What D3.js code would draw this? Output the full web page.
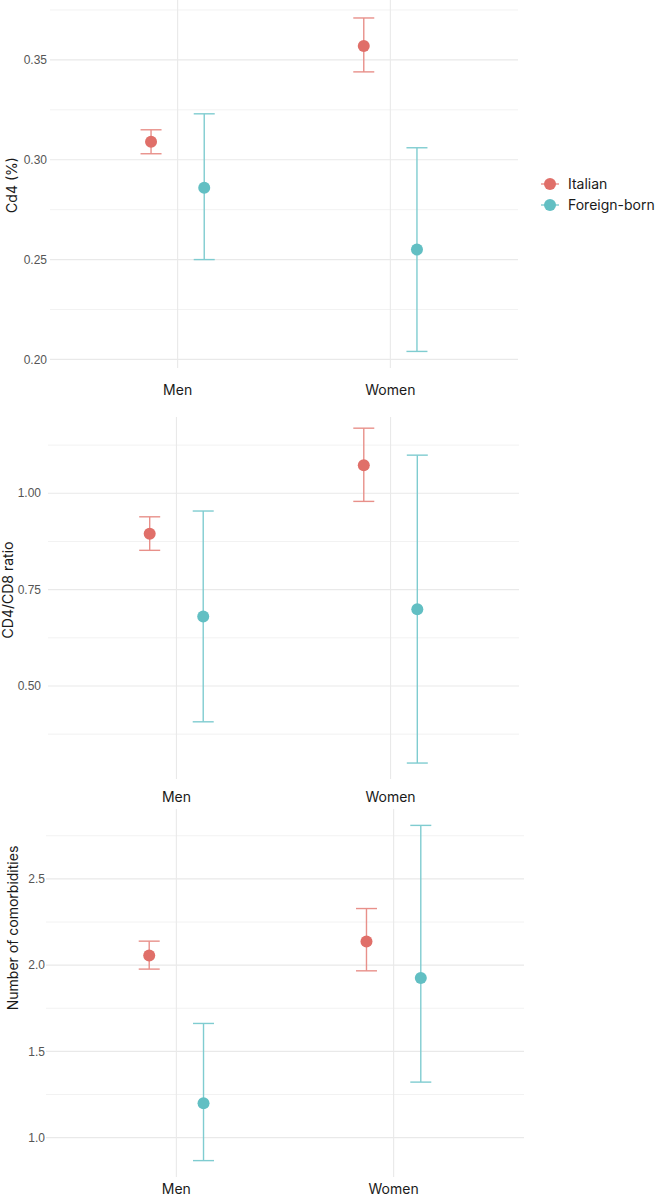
<!DOCTYPE html>
<html>
<head>
<meta charset="utf-8">
<script src="https://cdn.jsdelivr.net/npm/d3@7"></script>
<style>
  body { margin: 0; background: #fff; }
  svg { display: block; }
</style>
</head>
<body>
<svg id="chart" width="656" height="1196"></svg>
<script>
// categories and series
const groups = ["Men", "Women"];
const series = ["Italian", "Foreign-born"];
const colors = ["#e06f69", "#62bfc3"];
const barColors = ["#e8908a", "#7fccd0"];

// values per group: [mean, lower, upper]
const cd4Italian = [[0.309, 0.303, 0.315], [0.357, 0.344, 0.371]];
const cd4Foreign = [[0.286, 0.250, 0.323], [0.255, 0.204, 0.306]];
const ratioItalian = [[0.895, 0.852, 0.939], [1.073, 0.979, 1.169]];
const ratioForeign = [[0.680, 0.407, 0.954], [0.699, 0.300, 1.099]];
const comorbItalian = [[2.056, 1.977, 2.139], [2.137, 1.967, 2.328]];
const comorbForeign = [[1.199, 0.867, 1.662], [1.925, 1.322, 2.810]];

// tick labels
const cd4Ticks = [0.20, 0.25, 0.30, 0.35];
const ratioTicks = [0.50, 0.75, 1.00];
const comorbTicks = [1.0, 1.5, 2.0, 2.5];

const panels = [
  { title: "Cd4 (%)", data: [cd4Italian, cd4Foreign], ticks: cd4Ticks, fmt: ".2f", step: 0.05,
    domain: [0.1957, 0.38], x0: 50, x1: 518, y0: 0, y1: 368, tickX: 47, titleX: 12, titleY: 185, labelY: 390 },
  { title: "CD4/CD8 ratio", data: [ratioItalian, ratioForeign], ticks: ratioTicks, fmt: ".2f", step: 0.25,
    domain: [0.2586, 1.198], x0: 48, x1: 519, y0: 417, y1: 779, tickX: 41, titleX: 8, titleY: 590, labelY: 797 },
  { title: "Number of comorbidities", data: [comorbItalian, comorbForeign], ticks: comorbTicks, fmt: ".1f", step: 0.5,
    domain: [0.772, 2.905], x0: 46, x1: 524, y0: 809, y1: 1177, tickX: 45, titleX: 13, titleY: 928, labelY: 1189 }
];

const svg = d3.select("#chart");
const textFont = "Inter, 'Open Sans', sans-serif";
const tickFont = "'Liberation Sans', Arial, sans-serif";

panels.forEach(p => {
  const y = d3.scaleLinear().domain(p.domain).range([p.y1, p.y0]);
  const x = d3.scalePoint().domain(groups).range([p.x0, p.x1]).padding(0.6);
  const dodge = x.step() * 0.125;

  const g = svg.append("g");

  // minor gridlines
  const minors = [];
  for (let i = 0; i <= p.ticks.length; i++) {
    const v = p.ticks[0] - p.step / 2 + i * p.step;
    if (v > p.domain[0] && v < p.domain[1]) minors.push(v);
  }
  g.selectAll(".minor").data(minors).join("line")
    .attr("x1", p.x0).attr("x2", p.x1)
    .attr("y1", d => y(d)).attr("y2", d => y(d))
    .attr("stroke", "#f2f2f2").attr("stroke-width", 1);

  // major gridlines
  g.selectAll(".major").data(p.ticks).join("line")
    .attr("x1", p.x0).attr("x2", p.x1)
    .attr("y1", d => y(d)).attr("y2", d => y(d))
    .attr("stroke", "#e9e9e9").attr("stroke-width", 1.1);

  // vertical gridlines
  g.selectAll(".vgrid").data(groups).join("line")
    .attr("x1", d => x(d)).attr("x2", d => x(d))
    .attr("y1", p.y0).attr("y2", p.y1)
    .attr("stroke", "#e9e9e9").attr("stroke-width", 1.1);

  // y tick labels
  g.selectAll(".tick").data(p.ticks).join("text")
    .attr("x", p.tickX).attr("y", d => y(d))
    .attr("dy", "0.35em")
    .attr("text-anchor", "end")
    .attr("font-family", tickFont)
    .attr("font-size", 12)
    .attr("fill", "#555")
    .text(d => d3.format(p.fmt)(d));

  // x labels
  g.selectAll(".xlab").data(groups).join("text")
    .attr("x", d => x(d)).attr("y", p.labelY)
    .attr("dy", "0.35em")
    .attr("text-anchor", "middle")
    .attr("font-family", textFont)
    .attr("font-size", 14)
    .attr("fill", "#1a1a1a")
    .text(d => d);

  // y title
  g.append("text")
    .attr("transform", `translate(${p.titleX},${p.titleY}) rotate(-90)`)
    .attr("dy", "0.35em")
    .attr("text-anchor", "middle")
    .attr("font-family", textFont)
    .attr("font-size", 14)
    .attr("fill", "#1a1a1a")
    .text(p.title);

  // point ranges
  p.data.forEach((vals, si) => {
    const off = si === 0 ? -dodge : dodge;
    const pts = vals.map((v, gi) => ({ cx: x(groups[gi]) + off, mean: v[0], lo: v[1], hi: v[2] }));
    const s = g.append("g");
    s.selectAll(".bar").data(pts).join("line")
      .attr("x1", d => d.cx).attr("x2", d => d.cx)
      .attr("y1", d => y(d.lo)).attr("y2", d => y(d.hi))
      .attr("stroke", barColors[si]).attr("stroke-width", 1.4);
    s.selectAll(".capHi").data(pts).join("line")
      .attr("x1", d => d.cx - 10.5).attr("x2", d => d.cx + 10.5)
      .attr("y1", d => y(d.hi)).attr("y2", d => y(d.hi))
      .attr("stroke", barColors[si]).attr("stroke-width", 1.4);
    s.selectAll(".capLo").data(pts).join("line")
      .attr("x1", d => d.cx - 10.5).attr("x2", d => d.cx + 10.5)
      .attr("y1", d => y(d.lo)).attr("y2", d => y(d.lo))
      .attr("stroke", barColors[si]).attr("stroke-width", 1.4);
    s.selectAll("circle").data(pts).join("circle")
      .attr("cx", d => d.cx).attr("cy", d => y(d.mean))
      .attr("r", 6)
      .attr("fill", colors[si]);
  });
});

// legend
const legend = svg.append("g")
  .selectAll("g")
  .data(series)
  .join("g")
  .attr("transform", (d, i) => `translate(550,${184 + i * 21})`);

legend.append("line")
  .attr("x1", -9).attr("x2", 9)
  .attr("stroke", (d, i) => barColors[i]).attr("stroke-width", 1.4);

legend.append("circle")
  .attr("r", 6)
  .attr("fill", (d, i) => colors[i]);

legend.append("text")
  .attr("x", 18)
  .attr("dy", "0.35em")
  .attr("font-family", textFont)
  .attr("font-size", 14)
  .attr("fill", "#1a1a1a")
  .text(d => d);
</script>
</body>
</html>
